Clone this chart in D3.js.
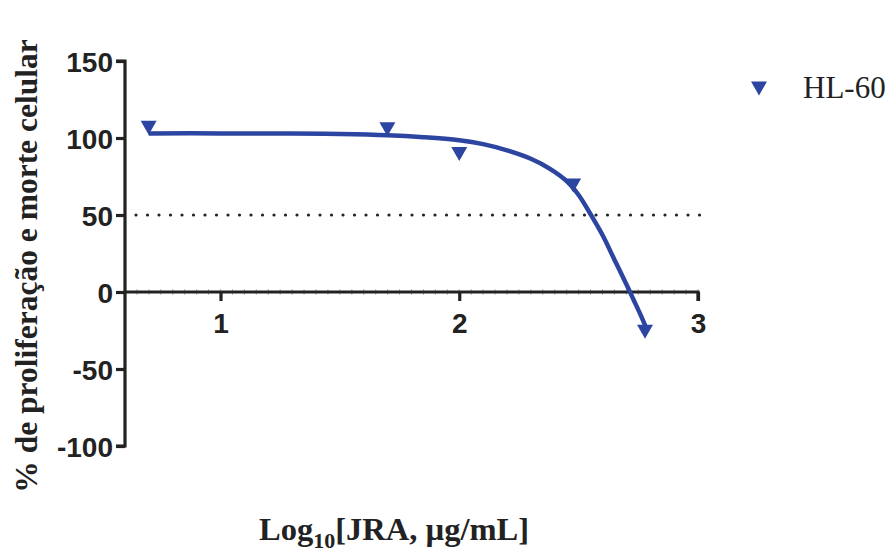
<!DOCTYPE html>
<html><head><meta charset="utf-8">
<script src="https://cdn.jsdelivr.net/npm/d3@7"></script>
<style>body{margin:0;background:#fff}svg{display:block}</style>
</head><body><svg id="c" width="892" height="554"></svg>
<script>
const seriesName = "HL-60";
const pointX = [0.699, 1.699, 2.0, 2.477, 2.778];
const pointY = [107, 106, 90, 69.5, -25.5];
const curveX = [0.699, 1.0, 1.3, 1.5, 1.7, 1.85, 2.0, 2.1, 2.2, 2.3, 2.38, 2.45, 2.5, 2.55, 2.6, 2.65, 2.7, 2.73, 2.76, 2.785];
const curveY = [103, 103, 102.9, 102.6, 101.8, 100.5, 98.5, 96, 92, 86.5, 80, 72, 63, 50.5, 37, 21, 5, -5, -15, -24];
const xTicks = [1, 2, 3];
const yTicks = [150, 100, 50, 0, -50, -100];
const refLine = 50;

const svg = d3.select("#c");
const blue = "#2b45a0", ink = "#222";
const tickFont = "bold 28px 'Liberation Sans', Arial, sans-serif";
const serif = "'Liberation Serif', 'Times New Roman', serif";
const x = d3.scaleLinear().domain([0.6, 3]).range([125, 698]);
const y = d3.scaleLinear().domain([-100, 150]).range([446, 61]);

// dotted 50% line
svg.append("line").attr("x1", 136).attr("x2", 700).attr("y1", y(refLine)).attr("y2", y(refLine))
  .attr("stroke", ink).attr("stroke-width", 3.2).attr("stroke-linecap", "round")
  .attr("stroke-dasharray", "0 11.5");

// minor ticks on x axis
const minor = d3.range(0.6, 3.001, 0.05);
svg.append("g").selectAll("line").data(minor).join("line")
  .attr("x1", d => x(d)).attr("x2", d => x(d)).attr("y1", y(0) - 3).attr("y2", y(0) + 3)
  .attr("stroke", "#aaa").attr("stroke-width", 0.8);

// x axis
const xa = svg.append("g").attr("transform", `translate(0,${y(0)})`)
  .call(d3.axisBottom(x).tickValues(xTicks).tickFormat(d => String(d)).tickSize(9).tickPadding(12));
xa.select(".domain").attr("stroke", ink).attr("stroke-width", 3.2).attr("d", `M${x(0.6)},0H${x(3)}V9`);
xa.selectAll(".tick line").attr("stroke", ink).attr("stroke-width", 3.2);
xa.selectAll(".tick text").attr("fill", ink).style("font", tickFont);

// y axis
const ya = svg.append("g").attr("transform", `translate(${x(0.6)},0)`)
  .call(d3.axisLeft(y).tickValues(yTicks).tickFormat(d => String(d)).tickSize(9).tickPadding(3));
ya.select(".domain").attr("stroke", ink).attr("stroke-width", 3.2).attr("d", `M-9,${y(150)}H0V${y(-100)}H-9`);
ya.selectAll(".tick line").attr("stroke", ink).attr("stroke-width", 3.2);
ya.selectAll(".tick text").attr("fill", ink).style("font", tickFont).attr("dy", "0.36em");

// curve
const line = d3.line().x((d, i) => x(curveX[i])).y(d => y(d)).curve(d3.curveCatmullRom);
svg.append("path").attr("d", line(curveY)).attr("fill", "none").attr("stroke", blue)
  .attr("stroke-width", 4.5).attr("stroke-linecap", "butt");

// markers (down triangles)
const tri = "M-8,-6.5L8,-6.5L0,7.5Z";
svg.append("g").selectAll("path").data(pointY).join("path")
  .attr("d", tri).attr("fill", blue)
  .attr("transform", (d, i) => `translate(${x(pointX[i])},${y(d)})`);

// legend
svg.append("path").attr("d", tri).attr("fill", blue).attr("transform", "translate(759,88)");
svg.append("text").attr("x", 803).attr("y", 98).text(seriesName)
  .style("font", `31px ${serif}`).attr("fill", ink);

// axis titles
svg.append("text").attr("transform", "translate(37,266) rotate(-90)").attr("text-anchor", "middle")
  .style("font", `bold 31.5px ${serif}`).attr("fill", ink)
  .text("% de proliferação e morte celular");
const xt = svg.append("text").attr("x", 394).attr("y", 540).attr("text-anchor", "middle")
  .style("font", `bold 32.5px ${serif}`).attr("fill", ink);
xt.append("tspan").text("Log");
xt.append("tspan").attr("dy", 8).style("font-size", "22px").text("10");
xt.append("tspan").attr("dy", -8).text("[JRA, µg/mL]");
</script></body></html>
